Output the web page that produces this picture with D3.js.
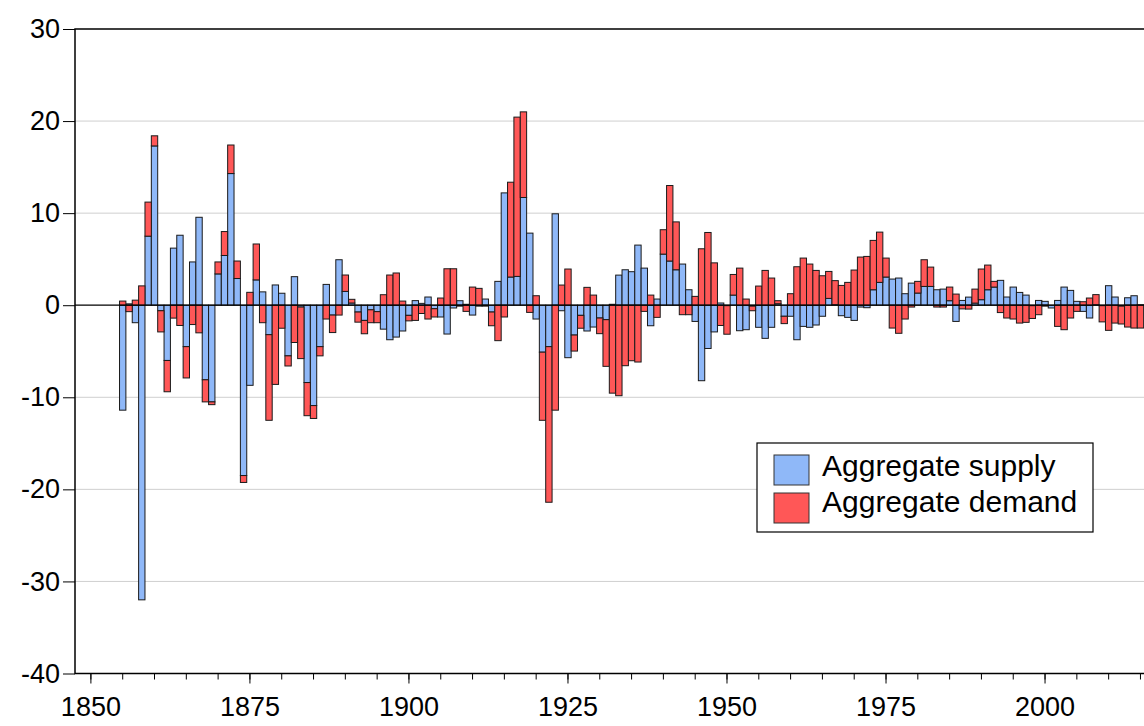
<!DOCTYPE html>
<html><head><meta charset="utf-8">
<script src="https://cdn.jsdelivr.net/npm/d3@7"></script>
<style>body{margin:0;background:#fff} svg{display:block;font-family:"Liberation Sans",Arial,sans-serif}</style>
</head><body><svg id="c" width="1144" height="726"></svg>
<script>
const years = d3.range(1855, 2016);
const supply = [
-11.4,0.15,-1.9,-32.0,7.5,17.3,-0.6,-6.0,6.2,7.6,
-4.5,4.7,9.55,-8.1,-10.5,3.4,5.4,14.3,2.9,-18.5,
-8.7,2.75,1.45,-3.2,2.2,1.3,-5.5,3.1,-0.2,-8.4,
-10.9,-4.5,2.26,-1.07,4.94,1.5,0.24,-0.74,-1.65,-0.5,
-0.7,-2.6,-3.75,-3.46,-2.8,-1.1,0.5,0.2,0.89,-0.38,
-1.28,-3.13,-0.3,0.49,0.1,-1.07,-0.1,0.67,-0.74,2.59,
12.2,3.06,3.13,11.7,7.83,-1.5,-5.1,-4.5,9.93,-0.6,
-5.7,-3.24,-1.1,-2.8,-2.37,-1.39,-1.57,0.1,3.27,3.85,
3.64,6.53,4.03,-2.23,0.67,5.55,4.8,3.85,4.47,1.68,
-1.76,-8.2,-4.7,-2.9,0.24,-0.05,1.1,-2.77,-2.66,-0.1,
-2.4,-3.6,-2.4,0.16,-1.2,-1.2,-3.75,-2.3,-2.4,-2.15,
-1.2,0.74,0.05,-1.14,-1.32,-1.65,-0.2,-0.27,1.68,2.48,
3.06,2.84,2.95,1.25,2.4,1.32,2.04,2.04,1.68,1.75,
0.49,-1.76,0.52,0.88,0.23,0.6,1.68,1.97,2.7,0.89,
1.97,1.39,1.1,-0.05,0.52,0.42,-0.3,0.52,1.97,1.61,
0.42,-0.67,-1.39,0.05,-0.05,2.12,0.89,-0.1,0.81,1.03,
0.05];
const demand = [
0.45,-0.7,0.55,2.1,3.7,1.1,-2.3,-3.4,-1.4,-2.2,
-3.4,-2.1,-3.0,-2.4,-0.3,1.3,2.6,3.1,1.9,-0.75,
1.4,3.9,-1.9,-9.3,-8.6,-2.5,-1.1,-4.05,-5.6,-3.6,
-1.4,-1.0,-1.5,-1.9,-1.07,1.78,0.4,-1.1,-1.45,-1.4,
-1.2,1.14,3.28,3.5,0.45,-0.6,-1.65,-0.9,-1.5,-0.9,
0.78,3.96,3.96,-0.1,-0.67,1.97,1.83,-0.1,-1.49,-3.85,
-1.28,10.3,17.3,9.3,-0.78,1.03,-7.4,-16.9,-11.4,2.19,
3.93,-1.74,-1.4,1.94,1.1,-1.7,-5.07,-9.55,-9.83,-6.57,
-6.03,-6.17,-0.67,1.1,-1.32,2.65,8.2,5.2,-1.03,-1.03,
0.96,6.13,7.9,4.6,-2.2,-3.1,2.24,4.03,0.67,-0.5,
2.08,3.78,2.95,0.33,-0.8,1.25,4.18,5.12,4.47,3.78,
3.2,2.93,2.62,2.15,2.48,3.82,5.23,5.3,5.36,5.46,
2.06,-2.48,-3.05,-1.5,-0.2,1.27,2.9,2.1,-0.2,-0.2,
1.48,1.21,-0.4,-0.42,1.52,3.33,2.68,0.62,-0.8,-1.39,
-1.5,-1.94,-1.86,-1.39,-1.03,-0.1,0.0,-2.3,-2.66,-1.39,
-0.67,0.38,0.78,1.1,-1.76,-2.73,-1.94,-1.94,-2.37,-2.48,
-2.48];
const yTicks = [-40,-30,-20,-10,0,10,20,30];
const xLabelYears = [1850,1875,1900,1925,1950,1975,2000];
const xMinorYears = d3.range(1850, 2016, 5);
const seriesKeys = ["supply","demand"];
const seriesNames = ["Aggregate supply","Aggregate demand"];
const colors = ["#8fb8f8","#ff5757"];

const svg = d3.select("#c");
const L = 75, T = 29, B = 673.5, R = 1150;
const axisYears = d3.range(1848, 2017);
const x = d3.scaleBand().domain(axisYears).range([L, R]).padding(0);
const y = d3.scaleLinear().domain([-40, 30]).range([B, T]);

const rows = years.map((yr, i) => ({year: yr, supply: supply[i], demand: demand[i]}));
const stacked = d3.stack().keys(seriesKeys).offset(d3.stackOffsetDiverging)(rows);

svg.append("g").selectAll("line").data(yTicks.filter(v => v !== 0 && v !== 30 && v !== -40))
  .join("line").attr("x1", L).attr("x2", 1144).attr("y1", d => y(d)).attr("y2", d => y(d))
  .attr("stroke", "#cfcfcf").attr("stroke-width", 1);

const g = svg.append("g");
stacked.forEach((s, k) => {
  g.append("g").selectAll("rect").data(s).join("rect")
    .attr("x", d => x(d.data.year))
    .attr("width", x.bandwidth())
    .attr("y", d => y(Math.max(d[0], d[1])))
    .attr("height", d => Math.abs(y(d[0]) - y(d[1])))
    .attr("fill", colors[k])
    .attr("stroke", "#1a1a1a").attr("stroke-width", 1);
});

svg.append("line").attr("x1", L).attr("x2", 1144).attr("y1", y(0)).attr("y2", y(0))
  .attr("stroke", "#000").attr("stroke-width", 1.2);

svg.append("path").attr("d", `M${R},${T}H${L}V${B}H${R}`).attr("fill", "none")
  .attr("stroke", "#000").attr("stroke-width", 1.5);

const ya = svg.append("g").attr("transform", `translate(${L},0)`)
  .call(d3.axisLeft(y).tickValues(yTicks).tickSize(12).tickPadding(3).tickFormat(d => String(d)));
ya.select(".domain").remove();
ya.selectAll("text").attr("font-size", 27).attr("fill", "#000").attr("font-family", '"Liberation Sans",Arial,sans-serif');
ya.selectAll("line").attr("stroke", "#000");

const xm = svg.append("g").attr("transform", `translate(0,${B})`)
  .call(d3.axisBottom(x).tickValues(xMinorYears).tickSize(6).tickFormat(""));
xm.select(".domain").remove();
xm.selectAll("line").attr("stroke", "#000");
const xa = svg.append("g").attr("transform", `translate(0,${B})`)
  .call(d3.axisBottom(x).tickValues(xLabelYears).tickSize(10).tickPadding(13).tickFormat(d => String(d)));
xa.select(".domain").remove();
xa.selectAll("text").attr("font-size", 27).attr("fill", "#000").attr("font-family", '"Liberation Sans",Arial,sans-serif');
xa.selectAll("line").attr("stroke", "#000");

const lg = svg.append("g");
lg.append("rect").attr("x", 757).attr("y", 443).attr("width", 336).attr("height", 89)
  .attr("fill", "#fff").attr("stroke", "#000").attr("stroke-width", 1.2);
seriesNames.forEach((name, i) => {
  lg.append("rect").attr("x", 774).attr("y", 455 + i * 38).attr("width", 35).attr("height", 30)
    .attr("fill", colors[i]).attr("stroke", "#333").attr("stroke-width", 1);
  lg.append("text").attr("x", 822).attr("y", 476 + i * 36).attr("font-size", 30)
    .attr("fill", "#000").text(name);
});
</script></body></html>
